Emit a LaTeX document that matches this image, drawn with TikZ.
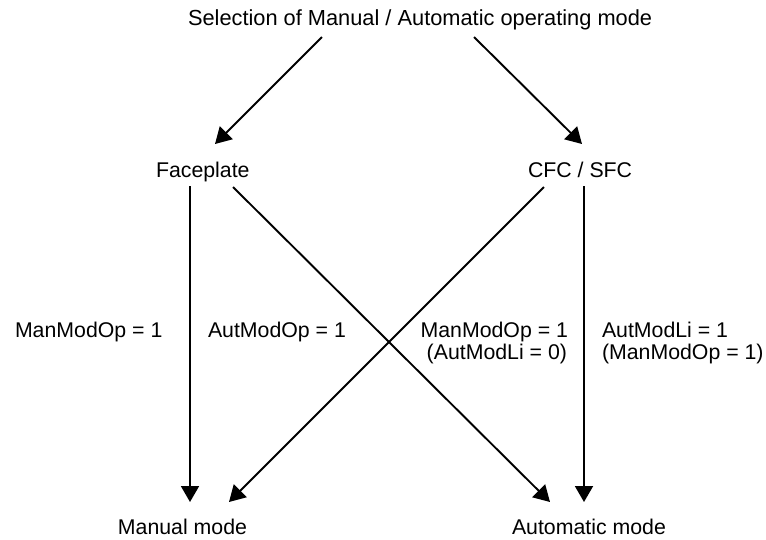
\documentclass[tikz,border=0pt]{standalone}
\usepackage{fontspec}
\setmainfont{Liberation Sans}
\usetikzlibrary{arrows.meta}
\begin{document}
\begin{tikzpicture}[x=1pt,y=-1pt,
  lbl/.style={inner sep=0pt,outer sep=0pt,font=\fontsize{21.3}{25}\selectfont},
  conn/.style={line width=1.9pt,-{Triangle[length=16pt,width=18pt]}}]
\useasboundingbox (0,0) rectangle (766,539);
\node[lbl,anchor=base west,font=\fontsize{21.8}{25}\selectfont] (title) at (188,25) {Selection of Manual / Automatic operating mode};
\node[lbl,anchor=base west] (face) at (156,177) {Faceplate};
\node[lbl,anchor=base west] (cfc) at (528,177) {CFC / SFC};
\node[lbl,anchor=base west] (l1) at (15,337) {ManModOp = 1};
\node[lbl,anchor=base west] (l2) at (208,337) {AutModOp = 1};
\node[lbl,anchor=base east] (l3a) at (568,337) {ManModOp = 1};
\node[lbl,anchor=base east] (l3b) at (567,359) {(AutModLi = 0)};
\node[lbl,anchor=base west] (l4a) at (602,337) {AutModLi = 1};
\node[lbl,anchor=base west] (l4b) at (602,359) {(ManModOp = 1)};
\node[lbl,anchor=base east] (manual) at (247,534) {Manual mode};
\node[lbl,anchor=base west] (auto) at (512,534) {Automatic mode};
\draw[conn] ([shift={(134,12)}]title.base west) -- ([shift={(59,-33)}]face.base west);
\draw[conn] ([shift={(286,12)}]title.base west) -- ([shift={(54,-33)}]cfc.base west);
\draw[conn] ([shift={(34,9)}]face.base west) -- ([shift={(-57,-32)}]manual.base east);
\draw[conn] ([shift={(77,10)}]face.base west) -- ([shift={(38,-32)}]auto.base west);
\draw[conn] ([shift={(16,10)}]cfc.base west) -- ([shift={(-18,-32)}]manual.base east);
\draw[conn] ([shift={(56,9)}]cfc.base west) -- ([shift={(72,-32)}]auto.base west);
\end{tikzpicture}
\end{document}
